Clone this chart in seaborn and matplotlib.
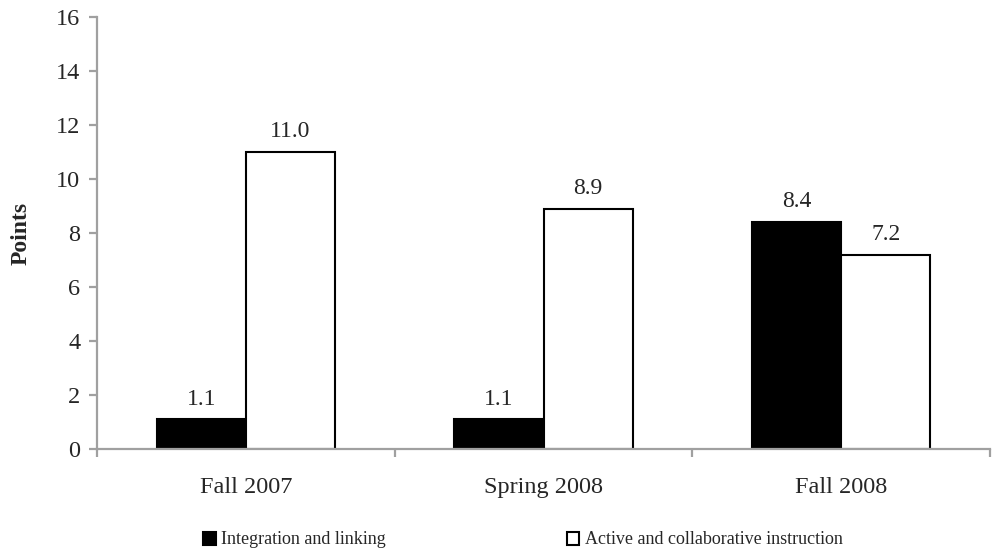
import pandas as pd
import matplotlib
matplotlib.use("Agg")
import matplotlib.pyplot as plt
import seaborn as sns

# values
terms = ["Fall 2007", "Spring 2008", "Fall 2008"]
integration = [1.1, 1.1, 8.4]
active = [11.0, 8.9, 7.2]
series_names = ["Integration and linking", "Active and collaborative instruction"]

df = pd.DataFrame({
    "term": terms * 2,
    "points": integration + active,
    "measure": [series_names[0]] * 3 + [series_names[1]] * 3,
})

sns.set_style("white")
plt.rcParams["font.family"] = ["Liberation Serif", "DejaVu Serif"]

fig = plt.figure(figsize=(10.05, 5.52), dpi=100)
ax = fig.add_axes([97 / 1005, 1 - 449 / 552, 893 / 1005, 432 / 552])

sns.barplot(data=df, x="term", y="points", hue="measure", hue_order=series_names,
            palette=["black", "white"], edgecolor="black", linewidth=1.5,
            width=0.6, gap=0, ax=ax, legend=True)

for cont in ax.containers:
    ax.bar_label(cont, fmt="%.1f", padding=7, fontsize=17)

ax.set_ylim(0, 16)
ax.set_yticks(range(0, 17, 2))
ax.set_xlim(-0.5, 2.5)
ax.set_xlabel("")
ax.set_ylabel("Points", fontsize=17, fontweight="bold")
ax.yaxis.set_label_coords(-0.073, 0.5)

grey = "#a0a0a0"
for s in ["top", "right"]:
    ax.spines[s].set_visible(False)
for s in ["left", "bottom"]:
    ax.spines[s].set_color(grey)
    ax.spines[s].set_linewidth(1.6)

ax.tick_params(axis="y", which="major", length=6, width=1.6, color=grey,
               labelsize=17.5, pad=6, direction="out", left=True)
ax.tick_params(axis="x", which="major", length=0, labelsize=17.5, pad=20)
ax.set_xticks([-0.5, 0.5, 1.5, 2.5], minor=True)
ax.tick_params(axis="x", which="minor", length=6, width=1.6, color=grey,
               direction="out", bottom=True)

handles, labels = ax.get_legend_handles_labels()
ax.get_legend().remove()
fig.legend(handles, labels, loc="center", bbox_to_anchor=(523 / 1005, 1 - 540 / 552),
           ncol=2, frameon=False, fontsize=13, handlelength=0.7, handleheight=0.7,
           handletextpad=0.3, columnspacing=10, borderaxespad=0)

fig.savefig("out.png", dpi=100)
